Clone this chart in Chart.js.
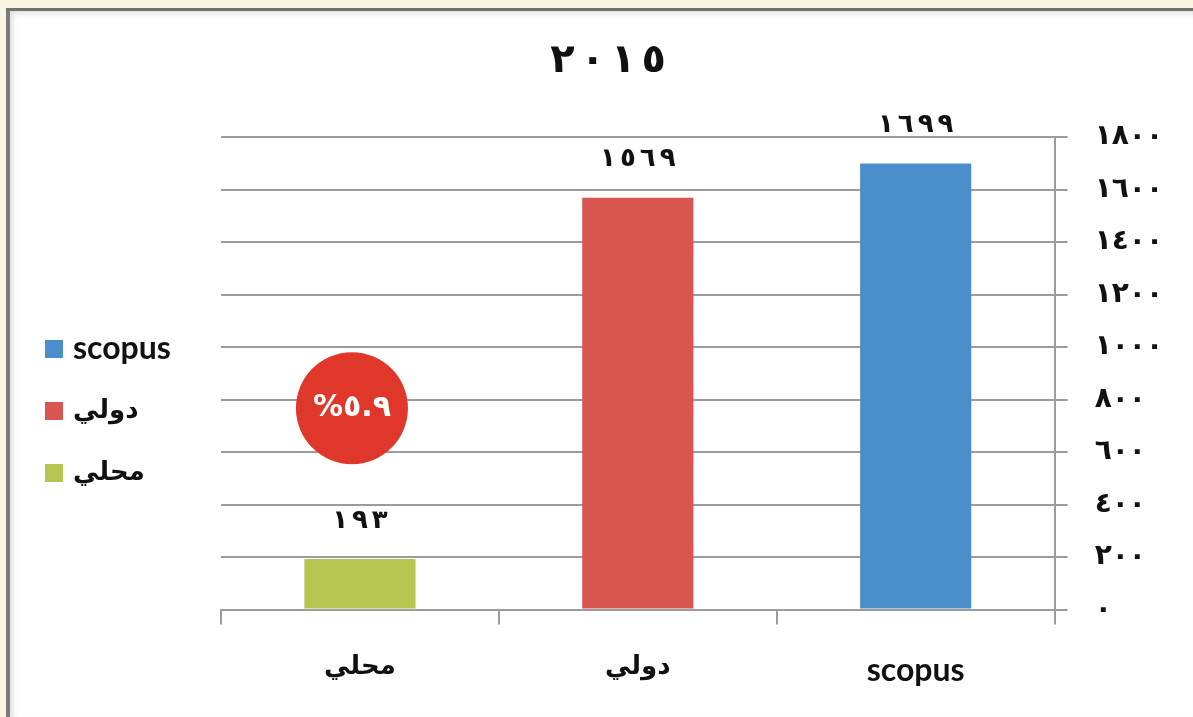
<!DOCTYPE html>
<html>
<head>
<meta charset="utf-8">
<script src="https://cdn.jsdelivr.net/npm/chart.js@4.4.0/dist/chart.umd.min.js"></script>
<style>
  html, body { margin: 0; padding: 0; width: 1193px; height: 717px; overflow: hidden; background: #f9f6e2; }
  #frame {
    position: absolute; left: 6px; top: 8px; width: 1187px; height: 709px;
    box-sizing: border-box; background: #fff;
    border-left: 4px solid #7b7b7b; border-top: 3px solid #707070;
    box-shadow: inset 3px 3px 5px rgba(0,0,0,0.12);
  }
  #wrap { position: absolute; left: 0; top: 0; width: 1183px; height: 706px; }
</style>
</head>
<body>
<div id="frame"><div id="wrap"><canvas id="chart"></canvas></div></div>
<script>
// data
var categories = ['محلي', 'دولي', 'scopus'];
var counts = [193, 1569, 1699];
var barColors = ['#b6c751', '#d9554f', '#4a8fcb'];
var yTickValues = [0, 200, 400, 600, 800, 1000, 1200, 1400, 1600, 1800];
var legendOrder = [2, 1, 0]; // top to bottom
var titleYear = 2015;
var highlightPct = '5.9';

var arDigits = '٠١٢٣٤٥٦٧٨٩';
function toArabic(v) {
  return String(v).replace(/\d/g, function (d) { return arDigits[d]; });
}
function isLatin(s) { return /^[A-Za-z]/.test(s); }

// digits drawn one by one (left to right) so they can be spread out
function drawSpaced(ctx, text, cx, cy, gap) {
  var chars = text.split('');
  var widths = chars.map(function (c) { return ctx.measureText(c).width; });
  var total = widths.reduce(function (a, b) { return a + b; }, 0) + gap * (chars.length - 1);
  var x = cx - total / 2;
  ctx.textAlign = 'left';
  chars.forEach(function (c, i) {
    ctx.fillText(c, x, cy);
    x += widths[i] + gap;
  });
  ctx.textAlign = 'center';
}

var AR_FONT = '"DejaVu Sans"';
var LAT_FONT = 'Lato, "DejaVu Sans"';

// title, value labels, highlight circle and left legend
var extras = {
  id: 'extras',
  afterDatasetsDraw: function (chart) {
    var ctx = chart.ctx;
    var meta = chart.getDatasetMeta(0);
    var y = chart.scales.y;
    ctx.save();
    ctx.textAlign = 'center';
    ctx.textBaseline = 'middle';
    ctx.fillStyle = '#111';

    // title, centred over the whole panel
    ctx.font = 'bold 40px ' + AR_FONT;
    drawSpaced(ctx, toArabic(titleYear), 598, 51, 6);

    ctx.font = 'bold 26px ' + AR_FONT;
    meta.data.forEach(function (bar, i) {
      drawSpaced(ctx, toArabic(counts[i]), bar.x, bar.y - 38, 4);
    });

    var cx = meta.data[0].x - 8;
    var cy = y.getPixelForValue(767);
    ctx.beginPath();
    ctx.arc(cx, cy, 56, 0, Math.PI * 2);
    ctx.fillStyle = '#e0372b';
    ctx.fill();
    ctx.fillStyle = '#fff';
    ctx.font = 'bold 30px ' + AR_FONT;
    ctx.fillText('%' + toArabic(highlightPct), cx, cy);

    // legend
    ctx.textAlign = 'left';
    legendOrder.forEach(function (idx, row) {
      var ly = 338 + row * 62;
      ctx.fillStyle = barColors[idx];
      ctx.fillRect(35, ly - 9, 18, 18);
      ctx.fillStyle = '#111';
      ctx.font = isLatin(categories[idx]) ? 'bold 32px ' + LAT_FONT : 'bold 26px ' + AR_FONT;
      ctx.fillText(categories[idx], 63, ly);
    });
    ctx.restore();
  }
};

new Chart(document.getElementById('chart'), {
  type: 'bar',
  data: {
    labels: categories,
    datasets: [{
      data: counts,
      backgroundColor: barColors,
      categoryPercentage: 0.8,
      barPercentage: 0.5
    }]
  },
  options: {
    responsive: true,
    maintainAspectRatio: false,
    animation: false,
    layout: { padding: { left: 211, right: 3, top: 126, bottom: 0 } },
    plugins: {
      legend: { display: false },
      tooltip: { enabled: false },
      title: { display: false }
    },
    scales: {
      x: {
        grid: { drawOnChartArea: false, color: '#9c9c9c', lineWidth: 2, tickLength: 15 },
        border: { color: '#9c9c9c', width: 2 },
        ticks: {
          color: '#111',
          padding: 27,
          font: function (c) {
            return isLatin(categories[c.index] || '')
              ? { family: LAT_FONT, size: 32, weight: 'bold' }
              : { family: AR_FONT, size: 26, weight: 'bold' };
          }
        }
      },
      y: {
        position: 'right',
        min: 0,
        max: 1800,
        afterBuildTicks: function (scale) {
          scale.ticks = yTickValues.map(function (v) { return { value: v }; });
        },
        grid: { color: '#9c9c9c', lineWidth: 2, tickLength: 13 },
        border: { color: '#9c9c9c', width: 2 },
        ticks: {
          color: '#111',
          padding: 27,
          font: { family: AR_FONT, size: 28, weight: 'bold' },
          callback: function (v) { return toArabic(v); }
        }
      }
    }
  },
  plugins: [extras]
});
</script>
</body>
</html>
